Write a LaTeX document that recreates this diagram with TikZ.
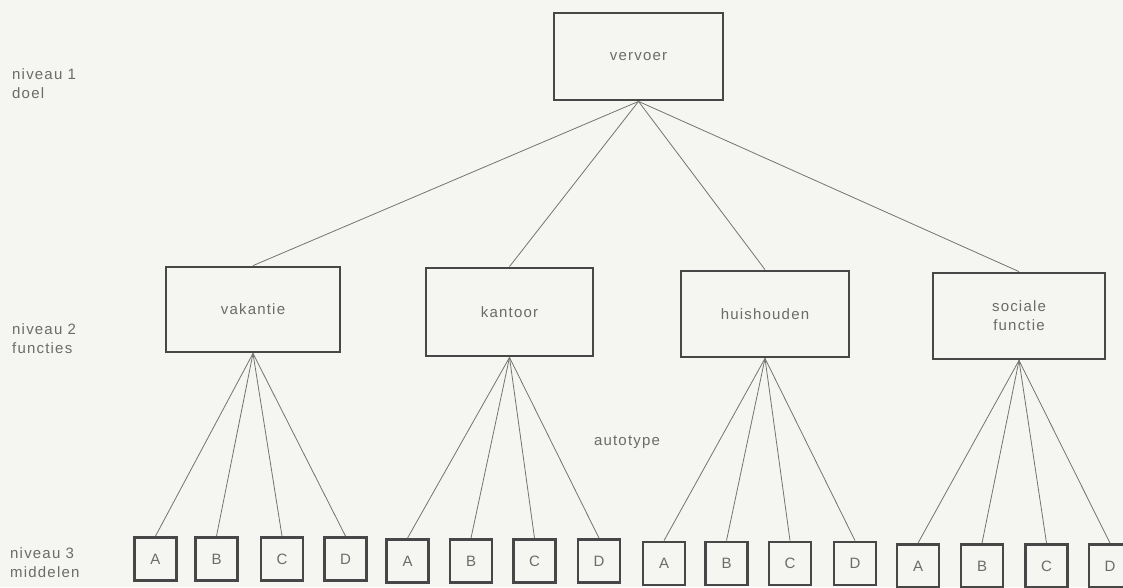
\documentclass[tikz,border=0pt]{standalone}
\usepackage{fontspec}
\setmainfont[LetterSpace=8]{Liberation Sans}
\definecolor{paper}{RGB}{245,245,241}
\begin{document}
\begin{tikzpicture}[x=1pt,y=-1pt,
  txt/.style={text=black!58, font=\fontsize{15}{19}\selectfont},
  bigbox/.style={draw=black!72, line width=2.8pt, inner sep=0pt, txt, align=center},
  smallbox/.style={draw=black!72, line width=2.8pt, inner sep=0pt, txt,
    minimum width=42pt, minimum height=43pt},
  link/.style={draw=black!55, line width=0.8pt},
  lvl/.style={txt, anchor=west, align=left, inner sep=0pt}]
  % page and background
  \fill[paper] (0,0) rectangle (1123,587);
  \useasboundingbox (0,0) rectangle (1123,587);

  % level labels
  \node[lvl] (l1) at (12,83.5) {niveau 1\\doel};
  \node[lvl] (l2) at (12,339) {niveau 2\\functies};
  \node[lvl] (l3) at (10,563) {niveau 3\\middelen};

  % level 1: goal
  \node[bigbox, minimum width=169pt, minimum height=87pt] (top) at (638.5,56.5) {vervoer};

  % level 2: functions
  \node[bigbox, minimum width=174pt, minimum height=85pt] (vak) at (253,309.5) {vakantie};
  \node[bigbox, minimum width=167pt, minimum height=88pt] (kan) at (509.5,312) {kantoor};
  \node[bigbox, minimum width=168pt, minimum height=86pt] (hui) at (765,314) {huishouden};
  \node[bigbox, minimum width=172pt, minimum height=86pt] (soc) at (1019,316) {sociale\\functie};

  \foreach \f in {vak,kan,hui,soc}
    \draw[link] (top.south) -- (\f.north);

  % level 3: means (car types)
  \node[txt] (autotype) at (627,442) {autotype};

  \foreach \f/\y/\xa/\xb/\xc/\xd in {
      vak/559/155.5/216.5/282/345.5,
      kan/561/407.5/471/534.5/599,
      hui/563.5/664/726.5/790/855,
      soc/566/918/982/1046.5/1110} {
    \node[smallbox] (\f A) at (\xa,\y) {A};
    \node[smallbox] (\f B) at (\xb,\y) {B};
    \node[smallbox] (\f C) at (\xc,\y) {C};
    \node[smallbox] (\f D) at (\xd,\y) {D};
    \foreach \m in {A,B,C,D}
      \draw[link] (\f.south) -- (\f\m.north);
  }
\end{tikzpicture}
\end{document}
